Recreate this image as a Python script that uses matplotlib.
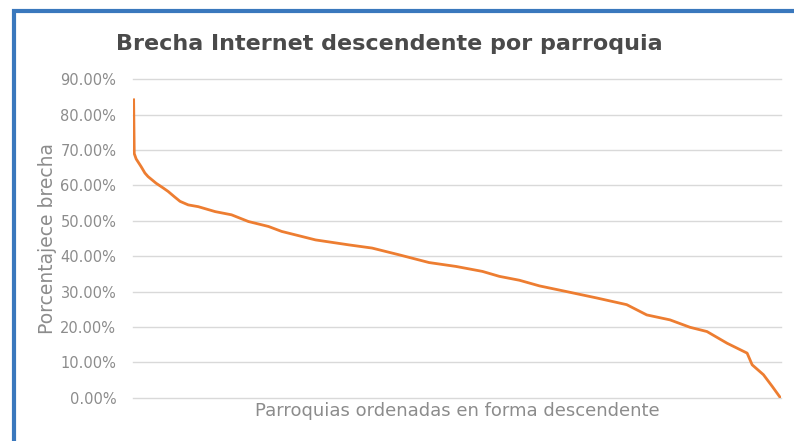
import matplotlib
matplotlib.use("Agg")
import matplotlib.pyplot as plt
from matplotlib.patches import Rectangle
from matplotlib.ticker import FuncFormatter

# rank of each parish (sorted descending) and its internet gap share
rank = [1, 2, 5, 13, 19, 24, 37, 48, 56, 66, 75, 88, 104, 131, 157, 184, 216,
        237, 291, 344, 381, 424, 472, 515, 557, 584, 616, 648, 691, 739, 787,
        819, 856, 888, 915, 947, 979, 987, 1005, 1019, 1032]
brecha = [84.2, 69.0, 67.5, 65.3, 63.5, 62.5, 60.6, 59.3, 58.3, 56.8, 55.5,
          54.5, 54.0, 52.6, 51.7, 49.8, 48.4, 47.0, 44.6, 43.2, 42.3, 40.4,
          38.2, 37.1, 35.7, 34.3, 33.2, 31.6, 30.0, 28.2, 26.3, 23.4, 22.0,
          19.9, 18.7, 15.4, 12.6, 9.3, 6.5, 3.2, 0.0]
yticks = [0, 10, 20, 30, 40, 50, 60, 70, 80, 90]

W, H = 794, 441
fig = plt.figure(figsize=(W / 100, H / 100), dpi=100)
ax = fig.add_axes([133 / W, 1 - 397.7 / H, (781 - 133) / W, (397.7 - 79.3) / H])

ax.plot(rank, brecha, color="#ed7d31", lw=2.0, solid_joinstyle="round")
ax.set_xlim(0, 1033)
ax.set_ylim(0, 90)
ax.set_yticks(yticks)
ax.yaxis.set_major_formatter(FuncFormatter(lambda v, p: f"{v:.2f}%"))
ax.set_xticks([])
ax.tick_params(axis="y", length=0, pad=12, labelsize=10.5, labelcolor="#8c8c8c")
ax.grid(axis="y", color="#d9d9d9", lw=1)
for gl in ax.get_ygridlines():
    gl.set_clip_on(False)
ax.set_axisbelow(True)
for s in ax.spines.values():
    s.set_visible(False)

ax.set_ylabel("Porcentajece brecha", fontsize=13.5, color="#8c8c8c")
ax.yaxis.set_label_coords(-0.117, 0.5)
ax.set_xlabel("Parroquias ordenadas en forma descendente", fontsize=13,
              color="#8c8c8c", labelpad=3)

fig.text(389 / W, 1 - 44 / H, "Brecha Internet descendente por parroquia",
         ha="center", va="center", fontsize=16, fontweight="bold",
         color="#4a4a4a")

# blue frame (only top and left edges are in view)
fig.patches.append(Rectangle((14 / W, -0.2), 1.2, 1 - 10.5 / H + 0.2,
                             transform=fig.transFigure, fill=False,
                             edgecolor="#3a78bd", lw=3))

fig.savefig("out.png", dpi=100)
